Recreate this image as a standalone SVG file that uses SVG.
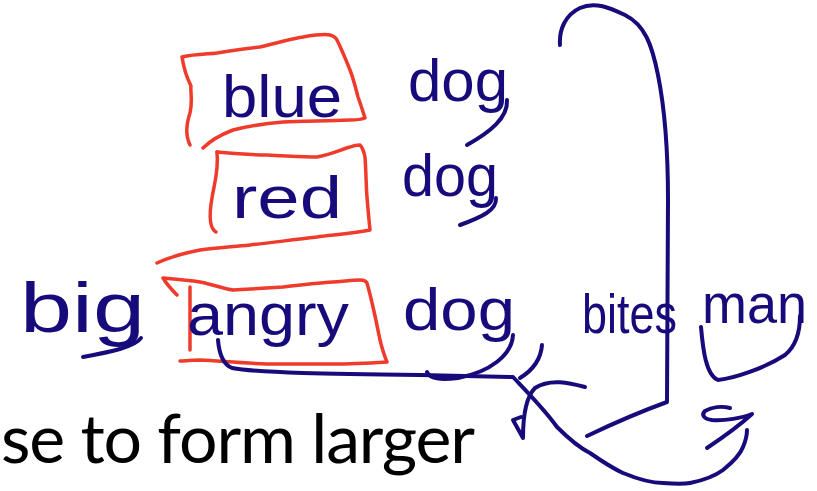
<svg xmlns="http://www.w3.org/2000/svg" width="817" height="491" viewBox="0 0 817 491">
<style>
.hw{font-family:"Liberation Sans",Arial,sans-serif;fill:#170b7c;}
.ink{fill:none;stroke:#170b7c;stroke-width:4;stroke-linecap:round;stroke-linejoin:round;}
.red{fill:none;stroke:#ee3b2b;stroke-width:3.5;stroke-linecap:round;stroke-linejoin:round;}
.body{font-family:Lato,"Open Sans","Liberation Sans",sans-serif;fill:#000;}
</style>
<rect width="817" height="491" fill="#fff"/>
<g id="box-blue">
<path class="red" d="M190,145 C185,135 186,125 190,113 C193,100 190,90 191,86 C187,78 184,70 182,57 C195,54 210,54 217,53 C235,50 250,48 260,47 C280,42 295,38 303,37 C315,35 325,34 330,35 C334,36 336,38 337,40 C342,50 346,60 350,70 C354,80 356,90 358,97 C361,105 363,112 365,118 C360,120 355,120 350,120 C320,121 300,121 283,122 C260,124 245,127 233,130 C220,135 210,141 203,148"/>
<text class="hw" x="222" y="117" font-size="60" textLength="120" lengthAdjust="spacingAndGlyphs">blue</text>
</g>
<g id="box-red">
<path class="red" d="M217,152 C240,154 255,155 267,155 C290,156 305,157 317,157 C330,155 340,150 350,147 C355,145 358,145 360,145 C363,148 364,152 365,157 C366,170 366,185 367,197 C368,210 369,220 370,230 C350,234 330,235 317,237 C290,240 270,243 250,245 C230,247 215,248 200,250 C185,253 170,257 157,263"/>
<path class="red" d="M217,152 C219,170 214,185 212,198 C209,215 209,228 216,232"/>
<text class="hw" x="232" y="218" font-size="60" textLength="110" lengthAdjust="spacingAndGlyphs">red</text>
</g>
<g id="box-angry">
<path class="red" d="M177,295 C172,290 166,283 163,278 C175,279 188,280 200,282 C215,285 225,289 233,290 C250,289 268,288 283,287 C300,285 318,283 333,282 C345,281 353,280 360,280 C364,280 366,281 367,283 C369,290 371,298 373,307 C376,320 378,330 380,340 C382,348 384,355 387,362 C370,363 350,364 333,364 C310,364 290,364 267,364 C240,363 220,361 200,360 C190,360 184,361 180,361"/>
<path class="red" d="M190,287 L190,350"/>
<text class="hw" x="187" y="335" font-size="60" textLength="162" lengthAdjust="spacingAndGlyphs">angry</text>
</g>
<g id="word-dog1">
<text class="hw" x="408" y="101" font-size="60" textLength="100" lengthAdjust="spacingAndGlyphs">dog</text>
<path class="ink" d="M507,100 C508,118 490,132 467,145"/>
</g>
<g id="word-dog2">
<text class="hw" x="402" y="196" font-size="60" textLength="96" lengthAdjust="spacingAndGlyphs">dog</text>
<path class="ink" d="M496,198 C497,210 482,217 460,225"/>
</g>
<g id="word-big">
<text class="hw" x="20" y="332" font-size="70" textLength="125" lengthAdjust="spacingAndGlyphs">big</text>
<path class="ink" d="M141,338 C135,347 110,352 83,357"/>
</g>
<g id="word-dog3">
<text class="hw" x="403" y="330" font-size="60" textLength="112" lengthAdjust="spacingAndGlyphs">dog</text>
<path class="ink" d="M513,335 C512,355 490,372 458,378 C440,380 430,379 427,372"/>
</g>
<g id="word-bites">
<text class="hw" x="582" y="333" font-size="56" textLength="95" lengthAdjust="spacingAndGlyphs">bites</text>
</g>
<g id="word-man">
<text class="hw" x="702" y="323" font-size="56" textLength="105" lengthAdjust="spacingAndGlyphs">man</text>
</g>
<g id="connectors">
<path class="ink" d="M560,45 C559,30 565,15 580,8 C595,1 610,8 625,15 C645,25 652,45 658,75 C665,110 668,150 668,200 L667,402 C645,410 612,424 587,436"/>
<path class="ink" d="M218,340 C219,352 222,364 232,368 C260,373 330,374 420,375 L513,377 C530,395 545,410 557,427 C570,440 580,448 590,453 C603,462 612,468 623,473 C640,480 652,483 663,483 C675,484 685,484 690,483 C705,480 715,476 723,470 C733,462 740,455 743,447 C746,440 747,435 747,430"/>
<path class="ink" d="M542,345 C541,358 533,370 520,378"/>
<path class="ink" d="M585,387 C570,383 550,378 535,388 C525,398 523,420 523,438 L513,420 L521,417"/>
<path class="ink" d="M701,327 C703,350 706,375 718,380 C735,378 765,368 785,355 C797,345 800,330 800,316"/>
<path class="ink" d="M730,408 C722,406 712,407 705,411 C701,415 704,419 712,420 C725,421 742,418 752,414 C740,425 722,438 707,448"/>
</g>
<text class="body" x="1" y="463" font-size="68" textLength="474" lengthAdjust="spacing">se to form larger</text>
</svg>
